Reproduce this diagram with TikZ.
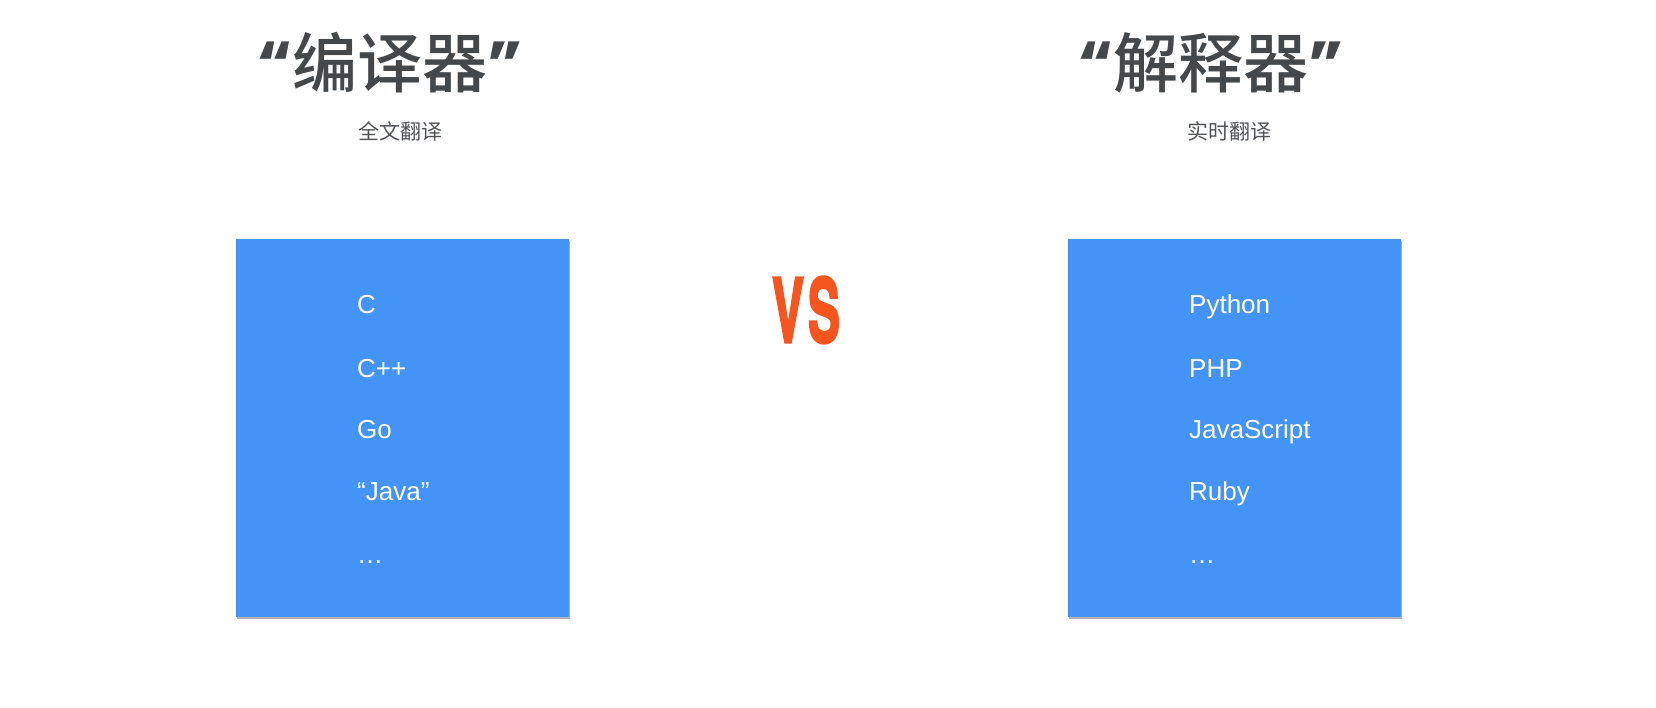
\documentclass[tikz,border=0pt]{standalone}
\usepackage{fontspec}
\newfontfamily\cjk{Noto Sans CJK SC}
\newfontfamily\cjkmed{Noto Sans CJK SC Medium}
\newfontfamily\quotefont{Poppins}
\newfontfamily\latin{Liberation Sans}
\newfontfamily\vsfont{TeX Gyre Heros}[BoldFeatures={FakeBold=3.5}]
\newcommand{\myLQ}{{\quotefont\bfseries “}}
\newcommand{\myRQ}{{\quotefont\bfseries ”}}
\definecolor{boxblue}{HTML}{4494F8}
\definecolor{titlegray}{HTML}{45484B}
\definecolor{subgray}{HTML}{505256}
\definecolor{vsorange}{HTML}{F5561F}
\tikzset{
  langbox/.style={fill=boxblue, draw=none, minimum width=333pt, minimum height=378pt, inner sep=0pt, anchor=north west},
  boxshadow/.style={fill=black!30, draw=none, minimum width=333pt, minimum height=378pt, inner sep=0pt, anchor=north west},
  title/.style={font=\cjkmed\fontsize{65}{65}\selectfont, text=titlegray, inner sep=0pt, anchor=base},
  subtitle/.style={font=\cjk\fontsize{21}{21}\selectfont, text=subgray, inner sep=0pt, anchor=base},
  lang/.style={font=\latin\fontsize{26}{26}\selectfont, text=white, inner sep=0pt, anchor=base west},
  vs/.style={font=\vsfont\bfseries\fontsize{88}{88}\selectfont, text=vsorange, inner sep=0pt, anchor=base, xscale=0.54}
}
\begin{document}
\begin{tikzpicture}[x=1pt,y=-1pt]
\useasboundingbox (0,0) rectangle (1656,708);
% titles
\node[title] (t1) at (390,88) {\myLQ 编译器\myRQ};
\node[subtitle] (s1) at (400,140) {全文翻译};
\node[title] (t2) at (1211,88) {\myLQ 解释器\myRQ};
\node[subtitle] (s2) at (1229,140) {实时翻译};
% boxes
\node[boxshadow] (sh1) at (237,241) {};
\node[langbox] (b1) at (236,239) {};
\node[boxshadow] (sh2) at (1069,241) {};
\node[langbox] (b2) at (1068,239) {};
% left list
\node[lang] (c) at (357,314) {C};
\node[lang] (cpp) at (357,377) {C++};
\node[lang] (go) at (357,438) {Go};
\node[lang] (java) at (357,500) {“Java”};
\node[lang] (dots1) at (357,563) {…};
% right list
\node[lang] (py) at (1189,314) {Python};
\node[lang] (php) at (1189,377) {PHP};
\node[lang] (js) at (1189,438) {JavaScript};
\node[lang] (rb) at (1189,500) {Ruby};
\node[lang] (dots2) at (1189,563) {…};
% vs
\node[vs] (vs) at (806,342) {V\kern8pt S};
\end{tikzpicture}
\end{document}
